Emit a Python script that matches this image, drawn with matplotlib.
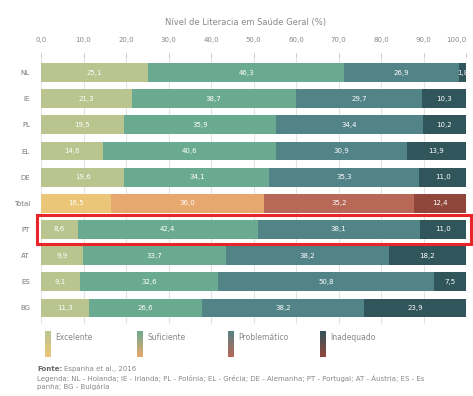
import matplotlib
matplotlib.use("Agg")
import matplotlib.pyplot as plt
import numpy as np
from matplotlib.patches import Rectangle
from matplotlib.colors import LinearSegmentedColormap

countries = ["NL", "IE", "PL", "EL", "DE", "Total", "PT", "AT", "ES", "BG"]
excelente = [25.1, 21.3, 19.5, 14.6, 19.6, 16.5, 8.6, 9.9, 9.1, 11.3]
suficiente = [46.3, 38.7, 35.9, 40.6, 34.1, 36.0, 42.4, 33.7, 32.6, 26.6]
problematico = [26.9, 29.7, 34.4, 30.9, 35.3, 35.2, 38.1, 38.2, 50.8, 38.2]
inadequado = [1.8, 10.3, 10.2, 13.9, 11.0, 12.4, 11.0, 18.2, 7.5, 23.9]
categorias = ["Excelente", "Suficiente", "Problemático", "Inadequado"]
xticks = [0, 10, 20, 30, 40, 50, 60, 70, 80, 90, 100]

green_pal = ["#b9c48f", "#6aaa91", "#528387", "#30555a"]
total_pal = ["#ecc678", "#e6a86e", "#b86856", "#91463c"]

W, H = 473, 396
fig = plt.figure(figsize=(W / 100, H / 100), dpi=100)
fig.patch.set_facecolor("white")
ax = fig.add_axes([41 / W, 1 - 323.7 / H, (466 - 41) / W, (323.7 - 56.8) / H])

series = [excelente, suficiente, problematico, inadequado]
y = np.arange(len(countries))
left = np.zeros(len(countries))
for ci, vals in enumerate(series):
    vals = np.array(vals)
    cols = [total_pal[ci] if c == "Total" else green_pal[ci] for c in countries]
    ax.barh(y, vals, left=left, height=0.72, color=cols, zorder=2)
    for yi, (l, v) in enumerate(zip(left, vals)):
        txt = f"{v:.1f}".replace(".", ",")
        ax.text(l + v / 2, yi, txt, ha="center", va="center", color="white",
                fontsize=5, zorder=3)
    left += vals

ax.set_xlim(0, 100)
ax.set_ylim(len(countries) - 0.4, -0.6)
ax.set_yticks(y)
ax.set_yticklabels(countries, fontsize=5, color="#777777")
ax.tick_params(axis="y", length=0, pad=8)
ax.xaxis.tick_top()
ax.set_xticks(xticks)
labels = ax.set_xticklabels([f"{t:.1f}".replace(".", ",") for t in xticks], fontsize=5, color="#888888")
labels[-1].set_horizontalalignment("right")
ax.tick_params(axis="x", length=3, color="#cccccc", pad=7)
ax.grid(axis="x", color="#e4e4e4", linewidth=0.8, zorder=0)
for s in ax.spines.values():
    s.set_visible(False)

fig.text(0.52, 1 - 22 / H, "Nível de Literacia em Saúde Geral (%)", fontsize=6,
         color="#888888", ha="center", va="center")

# red highlight box around PT
pt = countries.index("PT")
rect = Rectangle((-1, pt - 0.55), 102.2, 1.1, fill=False, edgecolor="#e8262a",
                 linewidth=2.2, clip_on=False, zorder=5)
ax.add_patch(rect)

# legend with gradient swatches
leg_x = [45, 137, 228, 320]
for i, name in enumerate(categorias):
    cmap = LinearSegmentedColormap.from_list("g", [green_pal[i], total_pal[i]])
    sax = fig.add_axes([leg_x[i] / W, 1 - 357 / H, 6 / W, 26 / H])
    grad = np.linspace(0, 1, 50).reshape(-1, 1)
    sax.imshow(grad, aspect="auto", cmap=cmap)
    sax.axis("off")
    fig.text((leg_x[i] + 10) / W, 1 - 337 / H, name, fontsize=5.5, color="#888888",
             ha="left", va="center")

fig.text(37 / W, 1 - 369 / H, "Fonte:", fontsize=5, color="#666666", fontweight="bold",
         ha="left", va="center")
fig.text(64 / W, 1 - 369 / H, "Espanha et al., 2016", fontsize=5, color="#888888",
         ha="left", va="center")
fig.text(37 / W, 1 - 378 / H,
         "Legenda: NL - Holanda; IE - Irlanda; PL - Polónia; EL - Grécia; DE - Alemanha; PT - Portugal; AT - Áustria; ES - Es",
         fontsize=5, color="#888888", ha="left", va="center")
fig.text(37 / W, 1 - 387 / H, "panha; BG - Bulgária", fontsize=5, color="#888888",
         ha="left", va="center")

fig.savefig("out.png", dpi=100, facecolor="white")
